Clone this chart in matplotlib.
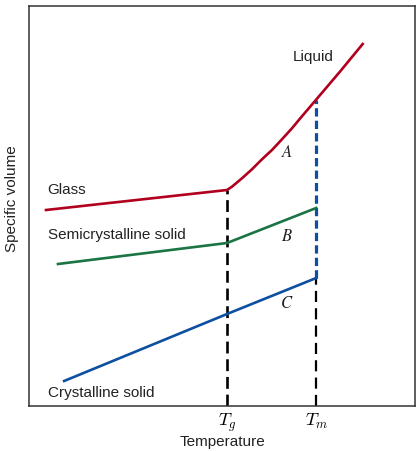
import matplotlib
matplotlib.use("Agg")
import matplotlib.pyplot as plt

# Data (arbitrary units: temperature 0-100, specific volume 0-100)
Tg = 51.3
Tm = 74.4
glass_x = [4.4, 51.3]
glass_y = [49.0, 54.0]
liquid_x = [51.3, 52.59, 55.18, 57.77, 60.36, 62.95, 65.54, 68.13, 70.28, 74.4, 80.57, 86.45]
liquid_y = [54.0, 54.83, 56.93, 59.18, 61.68, 64.0, 66.68, 69.43, 71.93, 76.6, 83.6, 90.5]
semi_x = [7.5, 51.3, 74.4]
semi_y = [35.5, 40.75, 49.5]
cryst_x = [9.1, 51.3, 74.4]
cryst_y = [6.25, 23.0, 32.0]
tick_labels = ["$T_g$", "$T_m$"]

plt.rcParams['mathtext.fontset'] = 'cm'
plt.rcParams['font.family'] = ['Liberation Sans', 'DejaVu Sans']

fig = plt.figure(figsize=(4.19, 4.51), dpi=100)
ax = fig.add_axes([29/419, 45/451, 386/419, 400/451])
ax.set_xlim(0, 100)
ax.set_ylim(0, 100)

red = "#B0001E"
green = "#1A7443"
blue = "#0D4FA0"
lw = 1.9

ax.plot(glass_x + liquid_x[1:], glass_y + liquid_y[1:], color=red, lw=lw,
        solid_joinstyle='round')
ax.plot(semi_x, semi_y, color=green, lw=lw)
ax.plot(cryst_x, cryst_y, color=blue, lw=lw)

# vertical dashed lines
tm_idx = liquid_x.index(Tm)
ax.plot([Tg, Tg], [0, glass_y[-1]], color='black', lw=1.9, dashes=(4.5, 2.2), zorder=1)
ax.plot([Tm, Tm], [0, cryst_y[-1]], color='black', lw=1.6, dashes=(5, 2.8), zorder=1)
ax.plot([Tm, Tm], [cryst_y[-1], liquid_y[tm_idx]], color=blue, lw=2.3, dashes=(2.6, 1.3), zorder=1)

tc = "#222222"
fs = 11
ax.text(4.8, 53.9, "Glass", fontsize=fs, color=tc, va='center', ha='left')
ax.text(4.8, 42.75, "Semicrystalline solid", fontsize=fs, color=tc, va='center', ha='left')
ax.text(4.8, 3.2, "Crystalline solid", fontsize=fs, color=tc, va='center', ha='left')
ax.text(68.4, 87.25, "Liquid", fontsize=fs, color=tc, va='center', ha='left')
mfs = 12
ax.text(66.8, 63.5, "$A$", fontsize=mfs, color=tc, va='center', ha='center',
        math_fontfamily='stix')
ax.text(66.8, 42.5, "$B$", fontsize=mfs, color=tc, va='center', ha='center',
        math_fontfamily='stix')
ax.text(66.8, 25.7, "$C$", fontsize=mfs, color=tc, va='center', ha='center',
        math_fontfamily='stix')

ax.set_xticks([Tg, Tm])
ax.set_xticklabels(tick_labels, fontsize=13)
ax.tick_params(axis='x', length=0, pad=4)
ax.set_yticks([])
ax.set_xlabel("Temperature", fontsize=fs, color=tc, labelpad=1)
ax.set_ylabel("Specific volume", fontsize=fs, color=tc)
ax.yaxis.set_label_coords(-0.027, 0.5175)

for s in ax.spines.values():
    s.set_color("#333333")
    s.set_linewidth(1.1)

fig.savefig("out.png", dpi=100)
